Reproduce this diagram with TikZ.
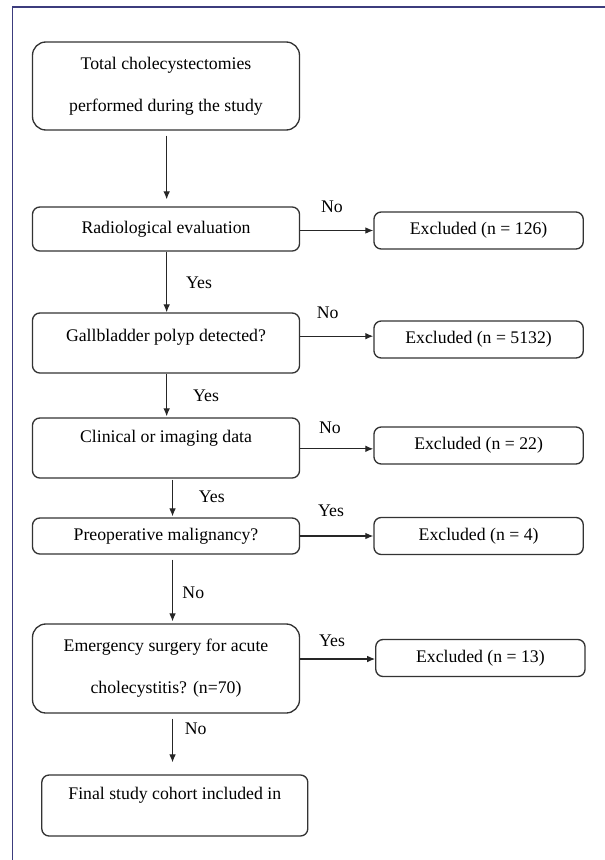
\documentclass[tikz,border=0pt]{standalone}
\usepackage{fontspec}
\setmainfont{Liberation Serif}
\usetikzlibrary{arrows.meta, positioning}
\definecolor{framecol}{RGB}{60,60,125}
\tikzset{
  stepbox/.style = {draw=black!80, line width=1pt, rounded corners=5.5pt,
    align=center, inner sep=0pt, minimum width=200.25pt,
    font=\fontsize{13.3}{31.5}\selectfont},
  exbox/.style = {stepbox, minimum width=157pt, minimum height=27.75pt},
  lab/.style = {font=\fontsize{13.3}{16}\selectfont, inner sep=0pt},
  flow/.style = {-{Latex[length=6pt,width=5pt]}, line width=0.8pt, black!85}
}

\begin{document}
\begin{tikzpicture}[x=0.75pt, y=-0.75pt]
\useasboundingbox (0,0) rectangle (605,860);
\draw [framecol, line width=1pt] (12.5,860) -- (12.5,7) -- (605,7);

% main column
\node [stepbox, minimum height=66pt, rounded corners=10pt] (total) at (166,86)
  {Total cholecystectomies\\performed during the study};
\node [stepbox, minimum height=33pt] (radio) at (166,229) {Radiological evaluation};
\node [stepbox, text height=21pt, text depth=24pt] (gall) at (166,343)
  {Gallbladder polyp detected?};
\node [stepbox, text height=18pt, text depth=27pt] (clin) at (166,448)
  {Clinical or imaging data};
\node [stepbox, minimum height=27pt] (preop) at (166,536) {Preoperative malignancy?};
\node [stepbox, minimum height=66.75pt, rounded corners=10pt] (emerg) at (166,668.5)
  {Emergency surgery for acute\\cholecystitis? (n=70)};
\node [stepbox, minimum width=199.5pt, text height=18pt, text depth=27.75pt] (final) at (174.8,805.5)
  {Final study cohort included in};

% excluded column
\node [exbox] (ex126) at (478.6,230.5) {Excluded (n = 126)};
\node [exbox] (ex5132) at (478.6,339.5) {Excluded (n = 5132)};
\node [exbox] (ex22) at (478.6,445.5) {Excluded (n = 22)};
\node [exbox] (ex4) at (478.6,536) {Excluded (n = 4)};
\node [exbox] (ex13) at (480.4,658) {Excluded (n = 13)};

% connectors
\draw [flow] ([xshift=0.5pt, yshift=-3.75pt]total.south) -- ([xshift=0.5pt, yshift=5.25pt]radio.north);
\draw [flow] ([xshift=0.5pt]radio.south) -- ([xshift=0.5pt]gall.north);
\draw [flow] ([xshift=0.5pt]gall.south) -- ([xshift=0.5pt, yshift=0.75pt]clin.north);
\draw [flow] ([xshift=4.9pt, yshift=-0.75pt]clin.south) -- ([xshift=4.9pt, yshift=0.75pt]preop.north);
\draw [flow] ([xshift=4.9pt, yshift=-3.75pt]preop.south) -- ([xshift=4.9pt, yshift=1.5pt]emerg.north);
\draw [flow] ([xshift=4.9pt, yshift=-3.75pt]emerg.south) -- ([xshift=-1.7pt, yshift=9pt]final.north);

\draw [flow] (ex126.west -| radio.east) -- (ex126.west);
\draw [flow] ([yshift=2.5pt]ex5132.west -| gall.east) -- ([yshift=2.5pt]ex5132.west);
\draw [flow] ([yshift=-2.5pt]ex22.west -| clin.east) -- ([yshift=-2.5pt]ex22.west);
\draw [flow] (ex4.west -| preop.east) -- (ex4.west);
\draw [flow] ([yshift=-0.75pt]ex13.west -| emerg.east) -- ([yshift=-0.75pt]ex13.west);

% labels
\node [lab] (no1) at (332,207) {No};
\node [lab] (yes1) at (199,283) {Yes};
\node [lab] (no2) at (327.6,313) {No};
\node [lab] (yes2) at (206,396) {Yes};
\node [lab] (no3) at (330,428) {No};
\node [lab] (yes3) at (211.8,497) {Yes};
\node [lab] (yes4) at (331,511) {Yes};
\node [lab] (no4) at (193.3,593) {No};
\node [lab] (yes5) at (332,641) {Yes};
\node [lab] (no5) at (195.6,729) {No};
\end{tikzpicture}
\end{document}
